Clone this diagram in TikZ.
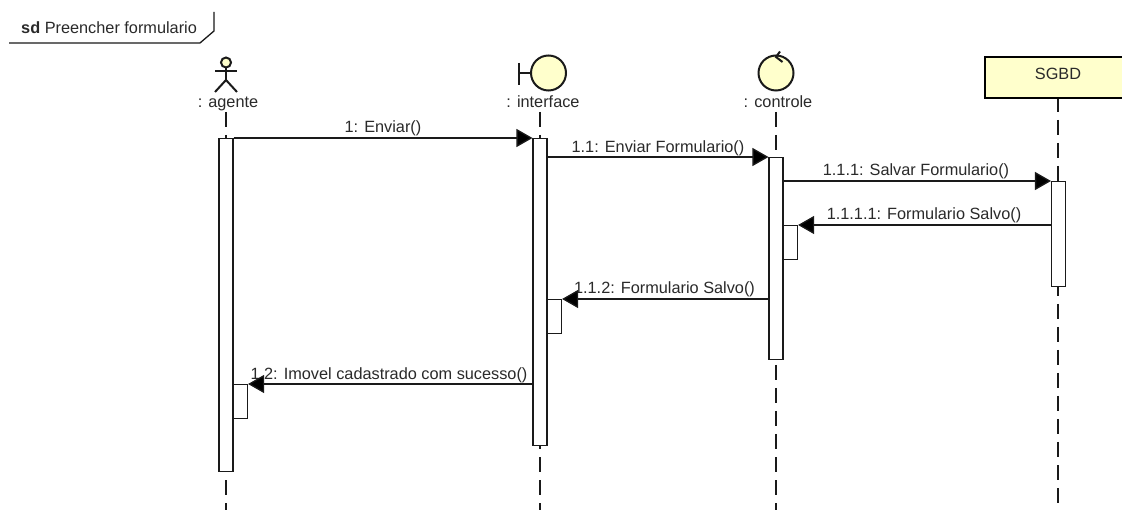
\documentclass[tikz,border=0pt]{standalone}
\usepackage{fontspec}
\setmainfont{Liberation Sans}
\usetikzlibrary{arrows.meta}
\definecolor{umlfill}{HTML}{FFFFCC}
\definecolor{umlink}{HTML}{1A1A1A}
\definecolor{umltext}{HTML}{2A2A2A}
\tikzset{
  actbox/.style={draw=umlink,line width=1.1pt,fill=white,rectangle,inner sep=0pt,minimum width=14pt,anchor=north},
  selfbox/.style={draw=umlink,line width=1.1pt,fill=white,rectangle,inner sep=0pt,minimum width=14pt,minimum height=34pt,anchor=north west},
  lifeline/.style={draw=umlink,line width=1.1pt,dash pattern=on 15pt off 8pt},
  msg/.style={draw=umlink,line width=1.3pt,-{Triangle[length=16pt,width=18pt,fill=black]}},
  lbl/.style={font=\fontsize{16.3}{18}\selectfont,text=umltext,inner sep=0pt,anchor=base},
  robust/.style={draw=umlink,line width=2pt,fill=umlfill,circle,inner sep=0pt,minimum size=35pt},
  thick stroke/.style={draw=umlink,line width=2pt}
}
\begin{document}
\begin{tikzpicture}[x=1pt,y=-1pt]
\useasboundingbox (0,0) rectangle (1122,510);
\clip (0,0) rectangle (1122,510);
\fill[white] (0,0) rectangle (1122,510);
% frame
\coordinate (fa) at (9,43);
\coordinate (fb) at (200,43);
\coordinate (fc) at (214,31);
\coordinate (fd) at (214,12);
\draw[draw=umlink,line width=1.3pt] (fa) -- (fb) -- (fc) -- (fd);
\node[lbl,anchor=base west] (frame) at (21,33.5) {\textbf{sd} Preencher formulario};
% lifeline ends
\coordinate (lat) at (226,112); \coordinate (lab) at (226,510);
\coordinate (lit) at (540,112); \coordinate (lib) at (540,510);
\coordinate (lct) at (776,112); \coordinate (lcb) at (776,510);
\coordinate (lst) at (1058,97); \coordinate (lsb) at (1058,510);
\draw[lifeline] (lat) -- (lab);
\draw[lifeline] (lit) -- (lib);
\draw[lifeline] (lct) -- (lcb);
\draw[lifeline] (lst) -- (lsb);
% actor
\node[draw=umlink,line width=2pt,fill=umlfill,circle,inner sep=0pt,minimum size=10pt] (head) at (226,62.5) {};
\coordinate (hip) at (226,80);
\coordinate (armL) at (215,71.5); \coordinate (armR) at (237,71.5);
\coordinate (legL) at (215,92); \coordinate (legR) at (237,92);
\draw[thick stroke] (head.south) -- (hip);
\draw[thick stroke] (armL) -- (armR);
\draw[thick stroke] (legL) -- (hip) -- (legR);
\node[lbl] (agente) at (228,107.5) {: agente};
% boundary
\node[robust] (iface) at (548.5,73) {};
\coordinate (ibt) at (519,63); \coordinate (ibb) at (519,85); \coordinate (ibm) at (519,73);
\draw[thick stroke] (ibt) -- (ibb);
\draw[thick stroke] (ibm) -- (iface.west);
\node[lbl] (interface) at (543,108) {: interface};
% control
\node[robust] (ctrl) at (776,73) {};
\coordinate (cta) at (780,51.5); \coordinate (ctb) at (776,57); \coordinate (ctc) at (782.5,62);
\draw[thick stroke] (cta) -- (ctb) -- (ctc);
\node[lbl] (controle) at (778,108) {: controle};
% SGBD
\node[draw=black,line width=2pt,fill=umlfill,rectangle,inner sep=0pt,minimum width=148pt,minimum height=41pt,anchor=north west] (sgbd) at (984,56) {};
\node[lbl] (sgbdlbl) at (1058,79.5) {SGBD};
% activations
\node[actbox,minimum height=333pt] (aact) at (226,138) {};
\node[actbox,minimum height=307pt] (iact) at (540,138) {};
\node[actbox,minimum height=202pt] (cact) at (776,157) {};
\node[actbox,minimum height=105pt] (sact) at (1058.5,181) {};
\node[selfbox] (selfc) at (783,225) {};
\node[selfbox] (selfi) at (547,299) {};
\node[selfbox] (selfa) at (233,384) {};
% labels
\node[lbl] (m1) at (383,133) {1: Enviar()};
\node[lbl] (m2) at (658,152.5) {1.1: Enviar Formulario()};
\node[lbl] (m3) at (916,176) {1.1.1: Salvar Formulario()};
\node[lbl] (m4) at (924,220) {1.1.1.1: Formulario Salvo()};
\node[lbl] (m5) at (664.5,294) {1.1.2: Formulario Salvo()};
\node[lbl] (m6) at (389,380) {1.2: Imovel cadastrado com sucesso()};
% messages
\draw[msg] (aact.north east) -- (iact.north west);
\draw[msg] (iact.east |- cact.north) -- (cact.north west);
\draw[msg] (cact.east |- sact.north) -- (sact.north west);
\draw[msg] (sact.west |- selfc.north) -- (selfc.north east);
\draw[msg] (cact.west |- selfi.north) -- (selfi.north east);
\draw[msg] (iact.west |- selfa.north) -- (selfa.north east);
\end{tikzpicture}
\end{document}
